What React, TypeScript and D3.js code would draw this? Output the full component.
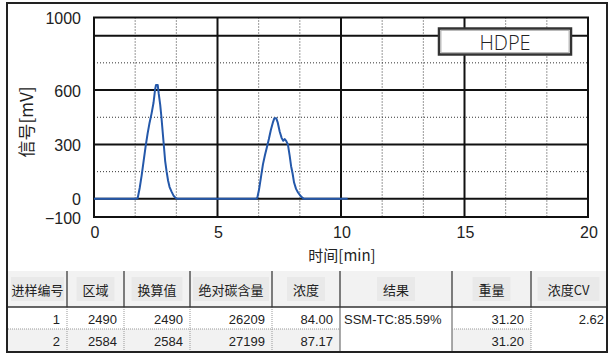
import React from 'react';
import * as d3 from 'd3';

// chromatogram trace
const times = [0, 1.70, 1.77, 1.85, 1.93, 2.01, 2.09, 2.17, 2.25, 2.33, 2.41, 2.47, 2.51, 2.58, 2.62, 2.68, 2.73, 2.78, 2.83, 2.88, 2.94, 3.00, 3.06, 3.14, 3.22, 3.30, 3.38,
  6.55, 6.61, 6.68, 6.76, 6.84, 6.92, 7.00, 7.08, 7.16, 7.24, 7.30, 7.38, 7.44, 7.52, 7.60, 7.66, 7.72, 7.78, 7.85, 7.92, 7.98, 8.04, 8.10, 8.18, 8.26, 8.34, 8.42, 8.50, 10.27];
const signal = [0, 0, 5, 60, 130, 210, 290, 360, 420, 470, 530, 600, 628, 628, 580, 520, 450, 370, 290, 210, 150, 100, 65, 40, 18, 5, 0,
  0, 5, 50, 120, 190, 240, 285, 330, 380, 420, 444, 444, 420, 370, 335, 320, 330, 320, 300, 240, 180, 140, 90, 55, 35, 20, 8, 0, 0];

const xTicks = [0, 5, 10, 15, 20];
const yTickLabels = [1000, 600, 300, 0, -100];
const ySolidGrid = [0, 300, 600, 900];
const yDottedGrid = [150, 450, 750];
const xDottedGrid = [5 / 3, 10 / 3, 20 / 3, 25 / 3, 35 / 3, 40 / 3, 50 / 3, 55 / 3];
const seriesName = 'HDPE';

// table
const headers = ['进样编号', '区域', '换算值', '绝对碳含量', '浓度', '结果', '重量', '浓度CV'];
const sampleNo = ['1', '2'];
const areas = ['2490', '2584'];
const converted = ['2490', '2584'];
const carbon = ['26209', '27199'];
const conc = ['84.00', '87.17'];
const result = 'SSM-TC:85.59%';
const weights = ['31.20', '31.20'];
const concCV = '2.62';

const colEdges = [8, 67, 124, 190, 272, 340, 452, 531, 606];

const W = 611, H = 354;
const x = d3.scaleLinear().domain([0, 20]).range([94, 588]);
const y = d3.scaleLinear().domain([-100, 1000]).range([217, 17.5]);

const cjk = '"Noto Sans CJK SC", "Noto Sans", sans-serif';
const num = '"Liberation Sans", Arial, sans-serif';

export default function App() {
  const pts = times.map((t, i) => [t, signal[i]] as [number, number]);
  const line = d3.line<[number, number]>().x(d => x(d[0])).y(d => y(d[1]));

  const hTop = 271, hBot = 307, r1 = 329, r2 = 352;
  const rowCols = [sampleNo, areas, converted, carbon, conc];

  return (
    <svg width={W} height={H} style={{ position: 'absolute', left: 0, top: 0, background: '#fff' }}>
      {/* outer frame */}
      <rect x={7} y={3} width={600} height={349} fill="#fff" stroke="#222" strokeWidth={2} />

      {/* grid */}
      {xDottedGrid.map(v => (
        <line key={'xd' + v} x1={x(v)} x2={x(v)} y1={y(1000)} y2={y(-100)} stroke="#333" strokeWidth={1} strokeDasharray="1,2" />
      ))}
      {yDottedGrid.map(v => (
        <line key={'yd' + v} x1={x(0)} x2={x(20)} y1={y(v)} y2={y(v)} stroke="#333" strokeWidth={1} strokeDasharray="1,2" />
      ))}
      {[5, 10, 15].map(v => (
        <line key={'xs' + v} x1={x(v)} x2={x(v)} y1={y(1000)} y2={y(-100)} stroke="#111" strokeWidth={2} />
      ))}
      {ySolidGrid.map(v => (
        <line key={'ys' + v} x1={x(0)} x2={x(20)} y1={y(v)} y2={y(v)} stroke="#111" strokeWidth={2} />
      ))}
      <rect x={x(0)} y={y(1000)} width={x(20) - x(0)} height={y(-100) - y(1000)} fill="none" stroke="#111" strokeWidth={2} />

      {/* trace */}
      <path d={line(pts) || ''} fill="none" stroke="#2458aa" strokeWidth={2} strokeLinejoin="round" />

      {/* legend */}
      <rect x={439} y={28.5} width={132} height={26} fill="#fff" stroke="#333" strokeWidth={2.5} />
      <rect x={441} y={30.5} width={128} height={22} fill="none" stroke="#aaa" strokeWidth={0.8} />
      <text x={505} y={42} textAnchor="middle" dominantBaseline="central" fontFamily='"Open Sans", sans-serif' fontWeight={300} fontSize={20} fill="#222">{seriesName}</text>

      {/* axes labels */}
      {yTickLabels.map(v => (
        <text key={'yl' + v} x={81} y={y(v) + 1} textAnchor="end" dominantBaseline="central" fontFamily={num} fontSize={16} fill="#222">
          {v < 0 ? '\u2212' + Math.abs(v) : v}
        </text>
      ))}
      {xTicks.map(v => (
        <text key={'xl' + v} x={x(v) + 1} y={238} textAnchor="middle" fontFamily={num} fontSize={16} fill="#222">{v}</text>
      ))}
      <text x={342} y={261} textAnchor="middle" fontFamily={cjk} fontSize={15} fill="#222">时间[min]</text>
      <text transform="translate(25,122) rotate(-90)" textAnchor="middle" dominantBaseline="central" fontFamily={cjk} fontSize={17} fill="#222">信号[mV]</text>

      {/* table header */}
      <rect x={8} y={hTop} width={598} height={hBot - hTop} fill="#f2f2f2" />
      {headers.map((h, i) => {
        const cx = (colEdges[i] + colEdges[i + 1]) / 2;
        const w = Math.min(h.length * 13 + (/CV/.test(h) ? -2 : 0) + 12, colEdges[i + 1] - colEdges[i] - 6);
        return (
          <g key={'h' + i}>
            <rect x={cx - w / 2} y={hTop + 6} width={w} height={24} fill="#e9e9e9" />
            <text x={cx} y={hTop + 18} textAnchor="middle" dominantBaseline="central" fontFamily={cjk} fontSize={13} fill="#222">{h}</text>
          </g>
        );
      })}
      {colEdges.slice(1, -1).map((cx, i) => (
        <line key={'hd' + i} x1={cx} x2={cx} y1={hTop} y2={hBot} stroke="#555" strokeWidth={1.5} />
      ))}

      {/* row 2 background (merged cells stay white) */}
      <rect x={8} y={r1} width={colEdges[5] - 8} height={r2 - r1} fill="#f2f2f2" />
      <rect x={colEdges[6]} y={r1} width={colEdges[7] - colEdges[6]} height={r2 - r1} fill="#f2f2f2" />

      {/* body dividers */}
      {colEdges.slice(1, -1).map((cx, i) => (
        <line key={'bd' + i} x1={cx} x2={cx} y1={hBot} y2={r2} stroke={i === 4 || i === 5 ? '#555' : '#999'} strokeWidth={1} strokeDasharray={i === 4 || i === 5 ? undefined : '1,1'} />
      ))}
      <line x1={8} x2={colEdges[5]} y1={r1} y2={r1} stroke="#999" strokeWidth={1} strokeDasharray="1,1" />
      <line x1={colEdges[6]} x2={colEdges[7]} y1={r1} y2={r1} stroke="#999" strokeWidth={1} strokeDasharray="1,1" />
      <line x1={8} x2={606} y1={hBot} y2={hBot} stroke="#333" strokeWidth={1.5} />
      <line x1={7} x2={607} y1={r2} y2={r2} stroke="#222" strokeWidth={2} />

      {/* body text */}
      {[0, 1].map(r => {
        const yy = r === 0 ? 319 : 341;
        return (
          <g key={'r' + r} fontFamily={num} fontSize={13} fill="#222">
            {rowCols.map((col, c) => (
              <text key={c} x={colEdges[c + 1] - 7} y={yy} textAnchor="end" dominantBaseline="central">{col[r]}</text>
            ))}
            <text x={colEdges[7] - 7} y={yy} textAnchor="end" dominantBaseline="central">{weights[r]}</text>
          </g>
        );
      })}
      <text x={344} y={319} dominantBaseline="central" fontFamily={num} fontSize={13} fill="#222">{result}</text>
      <text x={604} y={319} textAnchor="end" dominantBaseline="central" fontFamily={num} fontSize={13} fill="#222">{concCV}</text>
    </svg>
  );
}
